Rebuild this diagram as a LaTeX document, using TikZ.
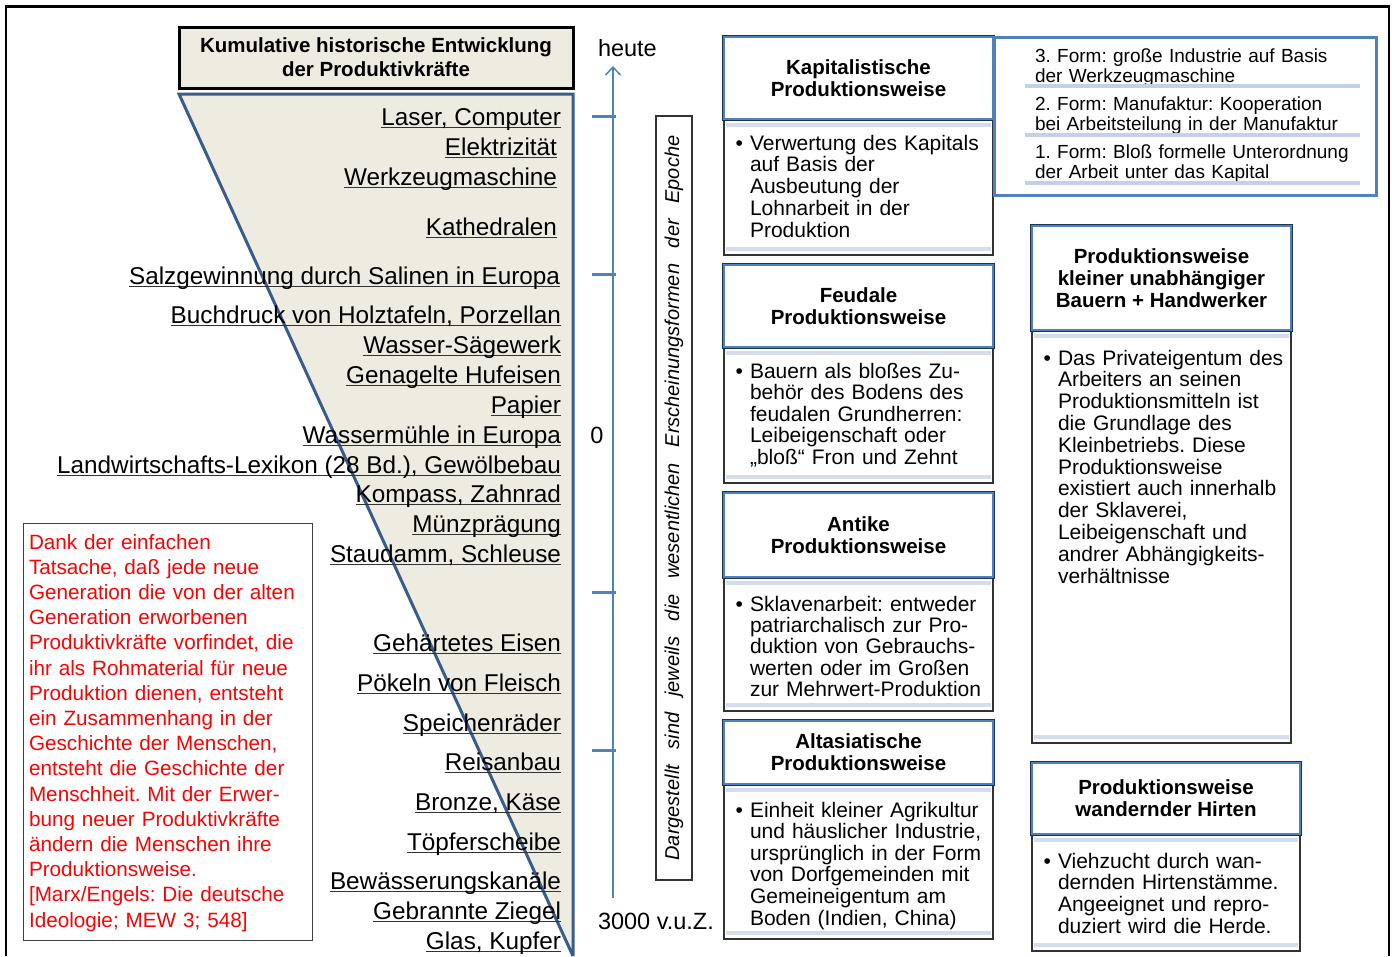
\documentclass[tikz,border=0pt]{standalone}
\usepackage{fontspec}
\setmainfont{Liberation Sans}
\usetikzlibrary{arrows.meta}
\frenchspacing
\definecolor{beige}{HTML}{EEECE1}
\definecolor{wedgeline}{HTML}{385D8A}
\definecolor{axisblue}{HTML}{4F81BD}
\definecolor{boxnavy}{HTML}{1F3350}
\definecolor{bandblue}{HTML}{D5DDEB}
\definecolor{sepblue}{HTML}{C3D0E5}
% underline at a fixed depth below the baseline
\newcommand\ulbar[1]{\setbox0=\hbox{#1}\rlap{\color{black!80}\rule[-3.2pt]{\wd0}{1.2pt}}\box0}
% one epoch box: title part, body frame and the two light bands
% #1 name, #2 left, #3 right, #4 top, #5 title bottom, #6 bottom, #7 title
\newcommand\epochbox[7]{%
  \path[bodyframe] (#2,#5) rectangle (#3,#6);
  \fill[bandblue] (#2+2,#5+4) rectangle (#3-2,#5+8);
  \fill[bandblue] (#2+2,#6-8) rectangle (#3-2,#6-4);
  \path[titleframe] (#2,#4) rectangle (#3,#5);
  \node[ttl] (#1) at ({(#2+#3)/2},{(#4+#5)/2}) {#7};
}
\begin{document}
\frenchspacing
\begin{tikzpicture}[x=1pt,y=-1pt,
  every node/.style={inner sep=0pt,outer sep=0pt},
  item/.style={anchor=base east,font=\fontsize{24.3}{28}\selectfont},
  ttl/.style={align=center,font=\bfseries\fontsize{20.5}{22}\selectfont},
  bodyframe/.style={draw=black!80,line width=1.3pt,fill=white},
  titleframe/.style={preaction={draw=boxnavy,line width=3.6pt},draw=axisblue,line width=2.2pt,fill=white},
  bodytxt/.style={anchor=base west,text width=300pt,align=left},
  formtxt/.style={anchor=base west,text width=345pt,align=left,font=\fontsize{19}{20}\selectfont},
  sepline/.style={draw=sepblue,line width=4pt},
  axislbl/.style={font=\fontsize{23.5}{26}\selectfont},
  tick/.style={draw=axisblue,line width=3pt}]
\useasboundingbox (0,0) rectangle (1392,956);

% outer frame
\draw[line width=2.5pt] (6,956) -- (6,6.5) -- (1389,6.5) -- (1389,956);

% wedge of accumulated productive forces
\fill[beige] (179,94) -- (573,94) -- (573,956) -- cycle;
\draw[wedgeline,line width=3pt,line join=miter] (573,956) -- (179,94) -- (573,94) -- (573,956);

% heading
\node[draw=black,line width=3pt,fill=beige,minimum width=394pt,minimum height=61pt,
      align=center,font=\bfseries\fontsize{20.5}{24}\selectfont] (head) at (376,57.5)
      {Kumulative historische Entwicklung\\der Produktivkräfte};

% inventions, newest on top
\node[item] (i01) at (561,125) {\ulbar{Laser, Computer}};
\node[item] (i02) at (557,155) {\ulbar{Elektrizität}};
\node[item] (i03) at (557,185) {\ulbar{Werkzeugmaschine}};
\node[item] (i04) at (557,235) {\ulbar{Kathedralen}};
\node[item] (i05) at (560,284) {\ulbar{Salzgewinnung durch Salinen in Europa}};
\node[item] (i06) at (561,323) {\ulbar{Buchdruck von Holztafeln, Porzellan}};
\node[item] (i07) at (561,353) {\ulbar{Wasser-Sägewerk}};
\node[item] (i08) at (561,383) {\ulbar{Genagelte Hufeisen}};
\node[item] (i09) at (561,413) {\ulbar{Papier}};
\node[item] (i10) at (561,443) {\ulbar{Wassermühle in Europa}};
\node[item] (i11) at (561,473) {\ulbar{Landwirtschafts-Lexikon (28 Bd.), Gewölbebau}};
\node[item] (i12) at (561,502) {\ulbar{Kompass, Zahnrad}};
\node[item] (i13) at (561,532) {\ulbar{Münzprägung}};
\node[item] (i14) at (561,562) {\ulbar{Staudamm, Schleuse}};
\node[item] (i15) at (561,651) {\ulbar{Gehärtetes Eisen}};
\node[item] (i16) at (561,691) {\ulbar{Pökeln von Fleisch}};
\node[item] (i17) at (561,731) {\ulbar{Speichenräder}};
\node[item] (i18) at (561,770) {\ulbar{Reisanbau}};
\node[item] (i19) at (561,810) {\ulbar{Bronze, Käse}};
\node[item] (i20) at (561,850) {\ulbar{Töpferscheibe}};
\node[item] (i21) at (561,889) {\ulbar{Bewässerungskanäle}};
\node[item] (i22) at (561,919) {\ulbar{Gebrannte Ziegel}};
\node[item] (i23) at (561,949) {\ulbar{Glas, Kupfer}};

% quotation
\draw[black!75,line width=1pt] (23,523) rectangle (312,940);
\node[bodytxt,text width=290pt,text=red,font=\fontsize{20.7}{25.2}\selectfont] (quote) at (29,549)
  {Dank der einfachen\\Tatsache, daß jede neue\\Generation die von der alten\\Generation erworbenen\\%
   Produktivkräfte vorfindet, die\\ihr als Rohmaterial für neue\\Produktion dienen, entsteht\\%
   ein Zusammenhang in der\\Geschichte der Menschen,\\entsteht die Geschichte der\\%
   Menschheit. Mit der Erwer-\\bung neuer Produktivkräfte\\ändern die Menschen ihre\\%
   Produktionsweise.\\{[}Marx/Engels: Die deutsche\\Ideologie; MEW 3; 548{]}};

% time axis
\coordinate (axbot) at (613,898);
\coordinate (axtop) at (613,66);
\draw[axisblue,line width=1.5pt,-{Straight Barb[length=8pt,width=15pt]}] (axbot) -- (axtop);
\foreach \ty in {116,274,592,750} \draw[tick] (592,\ty) -- (616,\ty);
\node[axislbl,anchor=base west] (today) at (598,56) {heute};
\node[axislbl,anchor=base] (zero) at (597,443) {0};
\node[axislbl,anchor=base west] (start) at (598,929) {3000 v.u.Z.};

% vertical note
\node[draw=black!80,line width=1.2pt,rotate=90,minimum width=764pt,minimum height=36pt,
      font=\fontsize{20}{24}\selectfont\itshape] (note) at (674,498)
  {\makebox[725pt][s]{Dargestellt sind jeweils die wesentlichen Erscheinungsformen der Epoche}};

% modes of production
\epochbox{kapT}{724}{993}{37}{119}{255}{Kapitalistische\\Produktionsweise}
\node[bodytxt,font=\fontsize{21}{21.75}\selectfont] (kapB) at (750,150)
  {\llap{\textbullet\hspace{7pt}}Verwertung des Kapitals\\auf Basis der\\Ausbeutung der\\Lohnarbeit in der\\Produktion};

\epochbox{feuT}{724}{993}{265}{347}{483}{Feudale\\Produktionsweise}
\node[bodytxt,font=\fontsize{21}{21.5}\selectfont] (feuB) at (750,378)
  {\llap{\textbullet\hspace{7pt}}Bauern als bloßes Zu-\\behör des Bodens des\\feudalen Grundherren:\\Leibeigenschaft oder\\„bloß“ Fron und Zehnt};

\epochbox{antT}{724}{993}{493}{577}{711}{Antike\\Produktionsweise}
\node[bodytxt,font=\fontsize{21}{21.4}\selectfont] (antB) at (750,611)
  {\llap{\textbullet\hspace{7pt}}Sklavenarbeit: entweder\\patriarchalisch zur Pro-\\duktion von Gebrauchs-\\werten oder im Großen\\zur Mehrwert-Produktion};

\epochbox{asiT}{724}{993}{721}{784}{939}{Altasiatische\\Produktionsweise}
\node[bodytxt,font=\fontsize{21}{21.6}\selectfont] (asiB) at (750,817)
  {\llap{\textbullet\hspace{7pt}}Einheit kleiner Agrikultur\\und häuslicher Industrie,\\ursprünglich in der Form\\von Dorfgemeinden mit\\Gemeineigentum am\\Boden (Indien, China)};

\epochbox{klT}{1032}{1291}{226}{330}{743}{Produktionsweise\\kleiner unabhängiger\\Bauern + Handwerker}
\node[bodytxt,font=\fontsize{21}{21.8}\selectfont] (klB) at (1058,365)
  {\llap{\textbullet\hspace{7pt}}Das Privateigentum des\\Arbeiters an seinen\\Produktionsmitteln ist\\die Grundlage des\\%
   Kleinbetriebs. Diese\\Produktionsweise\\existiert auch innerhalb\\der Sklaverei,\\Leibeigenschaft und\\%
   andrer Abhängigkeits-\\verhältnisse};

\epochbox{hiT}{1032}{1300}{763}{834}{951}{Produktionsweise\\wandernder Hirten}
\node[bodytxt,font=\fontsize{21}{21.7}\selectfont] (hiB) at (1058,868)
  {\llap{\textbullet\hspace{7pt}}Viehzucht durch wan-\\dernden Hirtenstämme.\\Angeeignet und repro-\\duziert wird die Herde.};

% forms of capitalist production
\draw[axisblue,line width=3pt] (994,37) rectangle (1376,195);
\node[formtxt] (form3) at (1035,62) {3. Form: große Industrie auf Basis\\der Werkzeugmaschine};
\draw[sepline] (1025,86) -- (1360,86);
\node[formtxt] (form2) at (1035,110) {2. Form: Manufaktur: Kooperation\\bei Arbeitsteilung in der Manufaktur};
\draw[sepline] (1025,135) -- (1360,135);
\node[formtxt] (form1) at (1035,158) {1. Form: Bloß formelle Unterordnung\\der Arbeit unter das Kapital};
\draw[sepline] (1025,183) -- (1360,183);
\end{tikzpicture}
\end{document}
